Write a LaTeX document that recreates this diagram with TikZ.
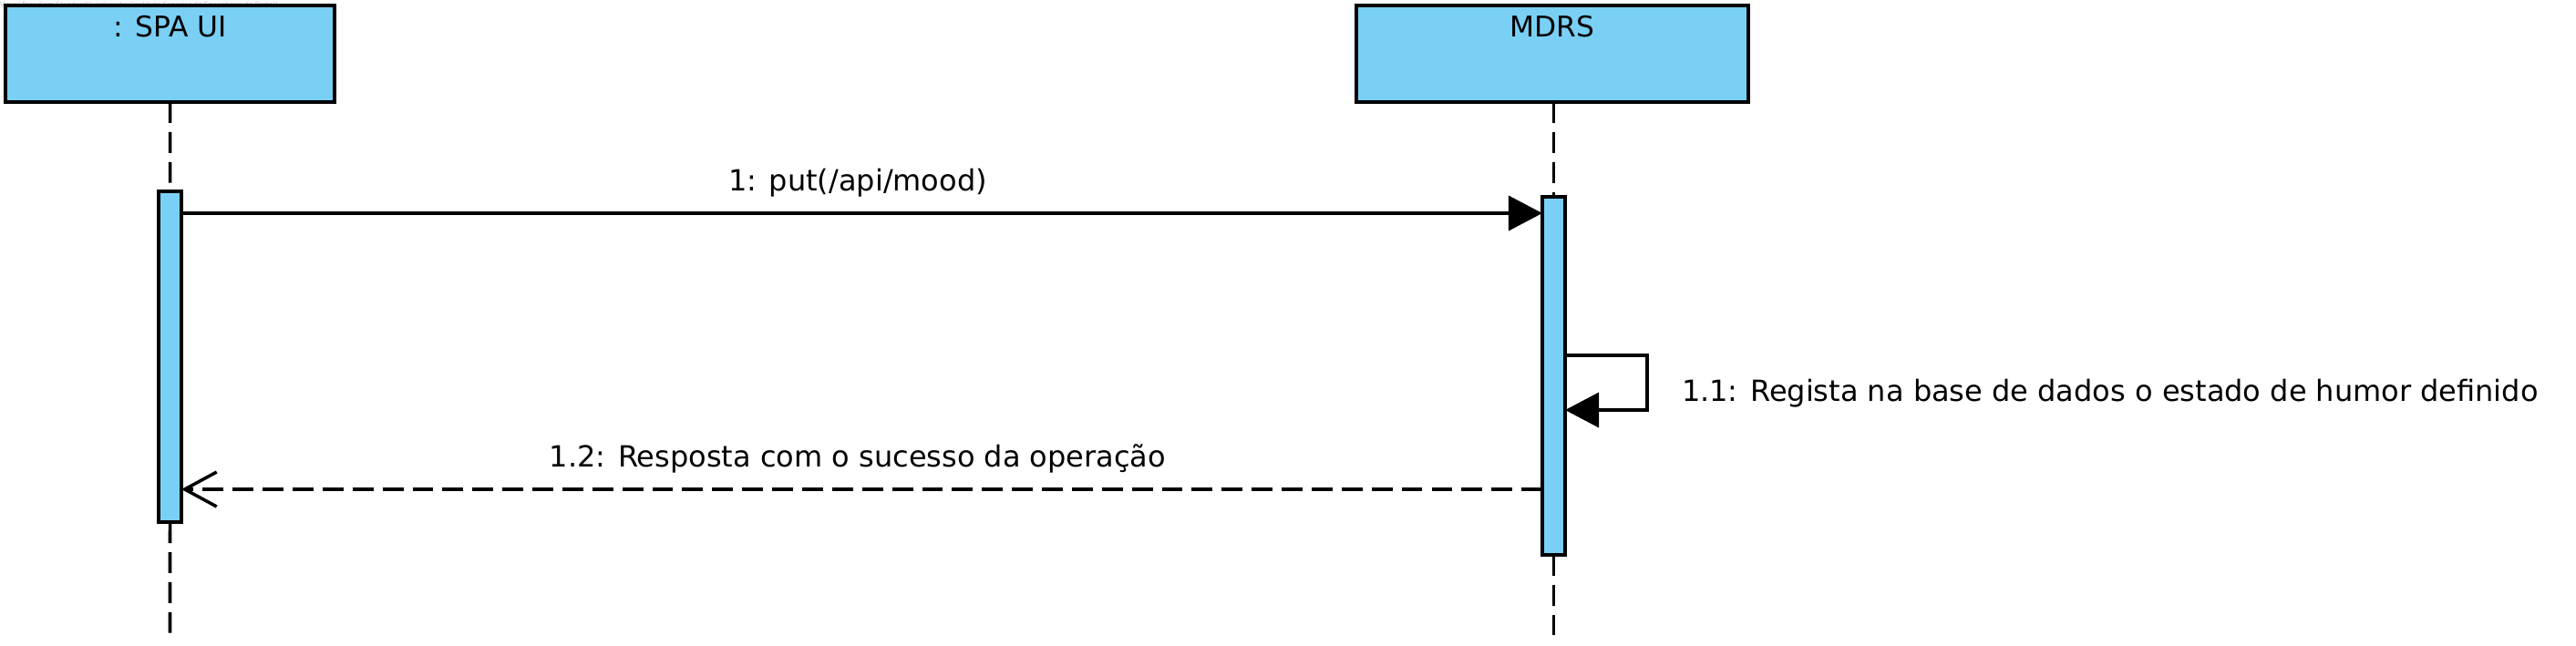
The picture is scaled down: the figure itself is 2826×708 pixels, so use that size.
\documentclass[tikz,border=0pt]{standalone}
\usepackage{fontspec}
\setmainfont{DejaVu Sans}
\usetikzlibrary{arrows.meta}
\definecolor{vpblue}{RGB}{122,207,244}
\begin{document}
\begin{tikzpicture}[x=0.01cm,y=-0.01cm,
  every node/.style={inner sep=0pt, outer sep=0pt},
  lifebox/.style={draw, fill=vpblue, line width=1.1pt, anchor=north west},
  actbar/.style={draw, fill=vpblue, line width=1.05pt, anchor=north west, minimum width=0.25cm},
  lifeline/.style={line width=1pt, dash pattern=on 6.5pt off 2.85pt},
  msg/.style={line width=1pt},
  call/.style={msg, -{Triangle[length=0.37cm,width=0.38cm]}},
  reply/.style={msg, dash pattern=on 6.5pt off 2.85pt, -{Straight Barb[length=0.35cm,width=0.38cm,line width=1pt]}},
  boxlabel/.style={font=\fontsize{8.9}{10}\selectfont, anchor=base},
  msglabel/.style={font=\fontsize{9.1}{11}\selectfont, anchor=base},
]
\useasboundingbox (0,0) rectangle (2826,708);
\node[font=\fontsize{2.1}{2.5}\selectfont, text=gray!50, anchor=north west] (wm) at (0,2) {Visual Paradigm Standard(luisdematos(Instituto Superior de Engenharia do Porto))};
\node[lifebox, minimum width=3.61cm, minimum height=1.06cm] (spa) at (6,6) {};
\node[boxlabel] (spalbl) at (186.5,40) {: SPA UI};
\node[lifebox, minimum width=4.30cm, minimum height=1.06cm] (mdrs) at (1488,6) {};
\node[boxlabel] (mdrslbl) at (1703,40) {MDRS};
\node[actbar, minimum height=3.63cm] (spaact) at (174,210) {};
\node[actbar, minimum height=3.93cm] (mdrsact) at (1692,216) {};
\coordinate (spaend) at (186.5,697);
\draw[lifeline] (spa.south) -- (spaact.north);
\draw[lifeline] (spaact.south) -- (spaend);
\draw[lifeline] (mdrsact.north |- mdrs.south) -- (mdrsact.north);
\draw[lifeline] (mdrsact.south) -- (mdrsact.south |- spaend);
% message 1
\draw[call] (spaact.east |- 0,234) -- (mdrsact.west |- 0,234);
\node[msglabel] (m1lbl) at (941,209) {1: put(/api/mood)};
% self message 1.1
\coordinate (selfr) at (1807,390);
\draw[call] (mdrsact.east |- selfr) -- (selfr) -- (selfr |- 0,450) -- (mdrsact.east |- 0,450);
\node[msglabel, anchor=base west] (m11lbl) at (1845,440) {1.1: Regista na base de dados o estado de humor definido};
% reply 1.2
\draw[reply] (mdrsact.west |- 0,537) -- (spaact.east |- 0,537);
\node[msglabel] (m12lbl) at (941,512) {1.2: Resposta com o sucesso da operação};
\end{tikzpicture}
\end{document}
